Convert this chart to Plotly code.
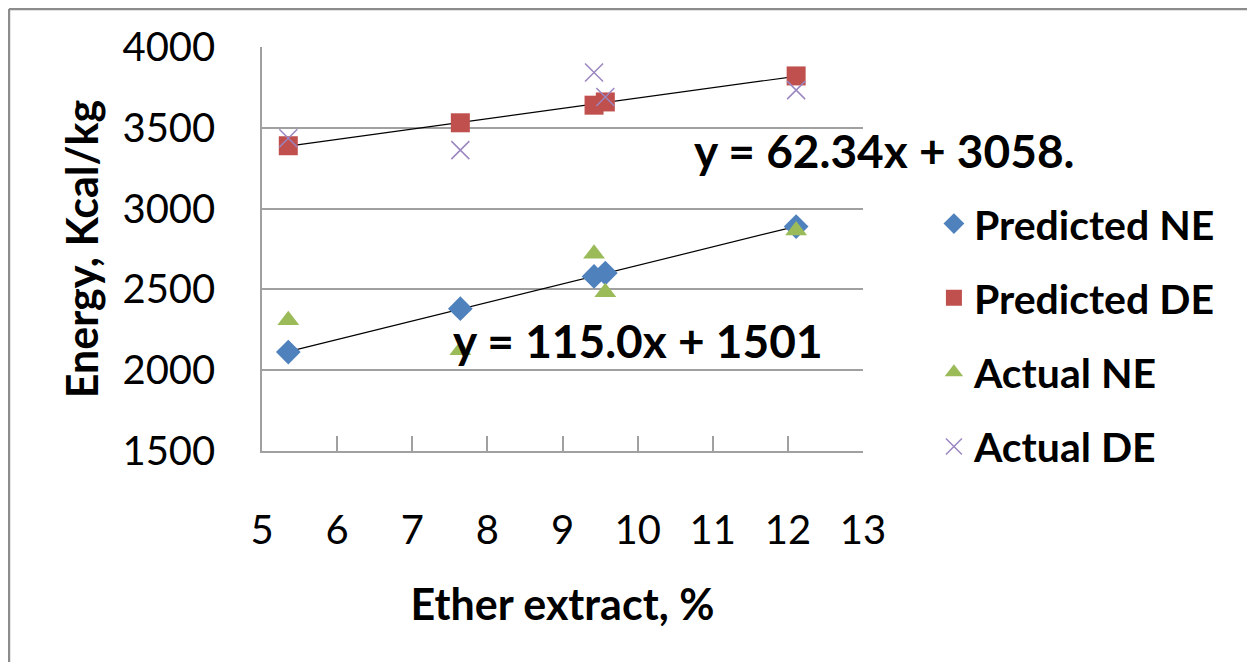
import numpy as np
import plotly.graph_objects as go

ether_extract = [5.35, 7.64, 9.42, 9.57, 12.11]
predicted_ne = [2112, 2381, 2580, 2601, 2889]
predicted_de = [3389, 3531, 3640, 3660, 3821]
actual_ne = [2309, 2123, 2720, 2483, 2864]
actual_de = [3435, 3362, 3842, 3691, 3733]
x_ticks = [5, 6, 7, 8, 9, 10, 11, 12, 13]
y_ticks = [1500, 2000, 2500, 3000, 3500, 4000]
eq_de_text = "y = 62.34x + 3058."
eq_ne_text = "y = 115.0x + 1501"

FONT = "Lato"
fig = go.Figure()

# trendlines (linear fits of the predicted series)
xs = np.array([min(ether_extract), max(ether_extract)])
for ys in (predicted_de, predicted_ne):
    m, c = np.polyfit(ether_extract, ys, 1)
    fig.add_trace(go.Scatter(x=xs, y=m * xs + c, mode="lines",
                             line=dict(color="black", width=1.2),
                             showlegend=False, hoverinfo="skip"))

fig.add_trace(go.Scatter(x=ether_extract, y=predicted_ne, mode="markers", name="Predicted NE",
                         legendgroup="a",
                         marker=dict(symbol="diamond", size=19, color="#4F81BD")))
fig.add_trace(go.Scatter(x=ether_extract, y=predicted_de, mode="markers", name="Predicted DE",
                         legendgroup="b",
                         marker=dict(symbol="square", size=19, color="#C0504D")))
fig.add_trace(go.Scatter(x=ether_extract, y=actual_ne, mode="markers", name="Actual NE",
                         legendgroup="c",
                         marker=dict(symbol="triangle-up", size=19, color="#9BBB59")))
fig.add_trace(go.Scatter(x=ether_extract, y=actual_de, mode="markers", name="Actual DE",
                         legendgroup="d",
                         marker=dict(symbol="x-thin", size=18, color="#9A86C0",
                                     line=dict(color="#9A86C0", width=1.5))))

fig.add_annotation(x=10.72, y=3362, text=eq_de_text, showarrow=False, xanchor="left",
                   yanchor="middle", font=dict(family=FONT, size=46, color="black", weight="bold"))
fig.add_annotation(x=7.52, y=2185, text=eq_ne_text, showarrow=False, xanchor="left",
                   yanchor="middle", font=dict(family=FONT, size=46, color="black", weight="bold"))

# chart outer border (top and left visible)
fig.add_shape(type="line", xref="paper", yref="paper", x0=-0.421, x1=2.0, y0=1.094, y1=1.094,
              line=dict(color="#8C8C8C", width=2.5))
fig.add_shape(type="line", xref="paper", yref="paper", x0=-0.421, x1=-0.421, y0=1.094, y1=-0.6,
              line=dict(color="#8C8C8C", width=2.5))

fig.update_layout(
    width=1247, height=654,
    margin=dict(l=254, r=392, t=39, b=211),
    paper_bgcolor="white", plot_bgcolor="white",
    font=dict(family=FONT, color="black"),
    showlegend=True,
    legend=dict(x=1.118, y=0.645, xanchor="left", yanchor="top",
                font=dict(family=FONT, size=41, color="black", weight="bold"),
                tracegroupgap=18, traceorder="grouped", bgcolor="rgba(0,0,0,0)"),
    xaxis=dict(range=[5, 13], tickvals=x_ticks, ticks="inside", ticklen=15,
               tickcolor="#A0A0A0", tickwidth=1.5,
               showline=True, linecolor="#A0A0A0", linewidth=1.5, showgrid=False,
               zeroline=False, tickfont=dict(family=FONT, size=40),
               ticklabelstandoff=43,
               title=dict(text="Ether extract, %", standoff=38,
                          font=dict(family=FONT, size=43, weight="bold"))),
    yaxis=dict(range=[1500, 4000], tickvals=y_ticks, ticks="",
               showline=True, linecolor="#A0A0A0", linewidth=1.5,
               showgrid=True, gridcolor="#A0A0A0", gridwidth=1.5,
               zeroline=False, tickfont=dict(family=FONT, size=40),
               ticklabelstandoff=37,
               title=dict(text="Energy, Kcal/kg", standoff=10,
                          font=dict(family=FONT, size=43, weight="bold"))),
)

fig.write_html("out.html")
